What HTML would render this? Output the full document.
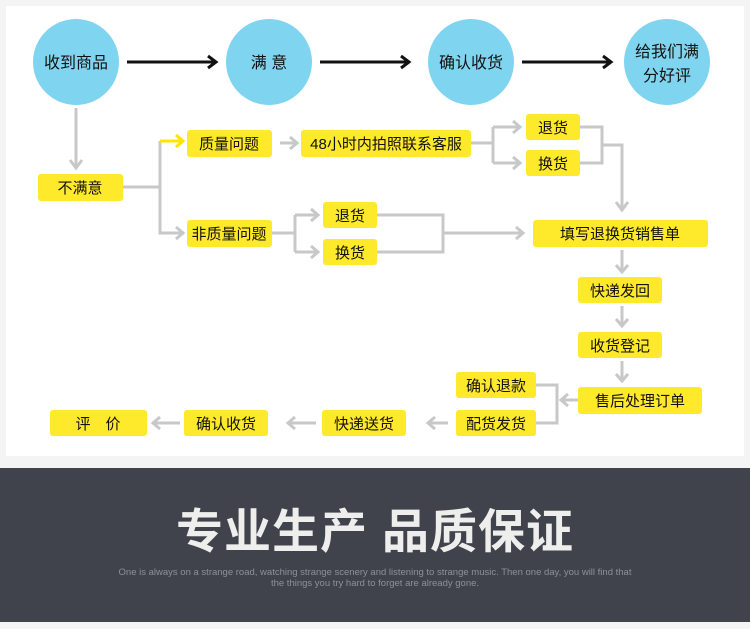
<!DOCTYPE html>
<html><head><meta charset="utf-8"><style>
body{margin:0;width:750px;height:629px;overflow:hidden;background:#fff;font-family:"Liberation Sans","Noto Sans CJK SC",sans-serif}
svg{display:block}
</style></head><body>
<svg width="750" height="629" viewBox="0 0 750 629" xmlns="http://www.w3.org/2000/svg" font-family="Liberation Sans, Noto Sans CJK SC, sans-serif">
<rect x="0" y="0" width="750" height="629" fill="#f4f4f4"/>
<rect x="6" y="6" width="738" height="450" fill="#fff"/>
<g fill="#7fd4ef">
<circle cx="76" cy="62" r="43"/><circle cx="269" cy="62" r="43"/><circle cx="471" cy="62" r="43"/><circle cx="667" cy="62" r="43"/>
</g>
<g font-size="16" fill="#111" text-anchor="middle">
<text x="76" y="68">收到商品</text>
<text x="269" y="68">满 意</text>
<text x="471" y="68">确认收货</text>
<text x="667" y="57">给我们满</text>
<text x="667" y="81">分好评</text>
</g>
<g stroke="#111" stroke-width="3" fill="none">
<path d="M127 62H216M208 56l8 6-8 6"/>
<path d="M320 62H409M401 56l8 6-8 6"/>
<path d="M522 62H611M603 56l8 6-8 6"/>
</g>
<g stroke="#c8c8c8" stroke-width="3" fill="none">
<path d="M76 108V168M70 160l6 8 6-8"/>
<path d="M123 187H160M160 141V233H183M176 227l7 6-7 6"/>
<path d="M280 143H296M290 137l7 6-7 6"/>
<path d="M471 143H493M493 127V163M493 127H520M513 121l7 6-7 6M493 163H520M513 157l7 6-7 6"/>
<path d="M580 127H602V163H580M602 145H622V210M616 202l6 8 6-8"/>
<path d="M272 233H295M295 215V252M295 215H318M311 209l7 6-7 6M295 252H318M311 246l7 6-7 6"/>
<path d="M377 215H443V252H377M443 233H523M516 227l7 6-7 6"/>
<path d="M622 250V272M616 265l6 7 6-7"/>
<path d="M622 306V326M616 319l6 7 6-7"/>
<path d="M622 361V381M616 374l6 7 6-7"/>
<path d="M536 385H557V423H536M578 400H561M568 394l-7 6 7 6"/>
<path d="M448 423H428M435 417l-7 6 7 6"/>
<path d="M316 423H288M295 417l-7 6 7 6"/>
<path d="M180 423H153M160 417l-7 6 7 6"/>
</g>
<path d="M160 141H183M176 135l7 6-7 6" stroke="#ffe400" stroke-width="3" fill="none"/>
<g fill="#ffe92b">
<rect x="38" y="174" width="85" height="27" rx="3"/>
<rect x="187" y="130" width="85" height="27" rx="3"/>
<rect x="301" y="130" width="170" height="27" rx="3"/>
<rect x="526" y="114" width="54" height="26" rx="3"/>
<rect x="526" y="150" width="54" height="26" rx="3"/>
<rect x="187" y="220" width="85" height="27" rx="3"/>
<rect x="323" y="202" width="54" height="26" rx="3"/>
<rect x="323" y="239" width="54" height="26" rx="3"/>
<rect x="533" y="220" width="175" height="27" rx="3"/>
<rect x="578" y="277" width="84" height="26" rx="3"/>
<rect x="578" y="332" width="84" height="26" rx="3"/>
<rect x="578" y="387" width="124" height="27" rx="3"/>
<rect x="456" y="372" width="80" height="26" rx="3"/>
<rect x="456" y="410" width="80" height="26" rx="3"/>
<rect x="322" y="410" width="84" height="26" rx="3"/>
<rect x="184" y="410" width="84" height="26" rx="3"/>
<rect x="50" y="410" width="97" height="26" rx="3"/>
</g>
<g font-size="15" fill="#111" text-anchor="middle">
<text x="80" y="193">不满意</text>
<text x="229" y="149">质量问题</text>
<text x="386" y="149">48小时内拍照联系客服</text>
<text x="553" y="133">退货</text>
<text x="553" y="169">换货</text>
<text x="229" y="239">非质量问题</text>
<text x="350" y="221">退货</text>
<text x="350" y="258">换货</text>
<text x="620" y="239">填写退换货销售单</text>
<text x="620" y="296">快递发回</text>
<text x="620" y="351">收货登记</text>
<text x="640" y="406">售后处理订单</text>
<text x="496" y="391">确认退款</text>
<text x="496" y="429">配货发货</text>
<text x="364" y="429">快递送货</text>
<text x="226" y="429">确认收货</text>
<text x="98" y="429">评　价</text>
</g>
<rect x="0" y="468" width="750" height="154" fill="#40434c"/>
<text x="375" y="548" font-size="47" font-weight="bold" fill="#eeeeec" text-anchor="middle" letter-spacing="1">专业生产 品质保证</text>
<g font-size="9.5" fill="#8d9099" text-anchor="middle">
<text x="375" y="575">One is always on a strange road, watching strange scenery and listening to strange music. Then one day, you will find that</text>
<text x="375" y="586">the things you try hard to forget are already gone.</text>
</g>
</svg>
</body></html>
